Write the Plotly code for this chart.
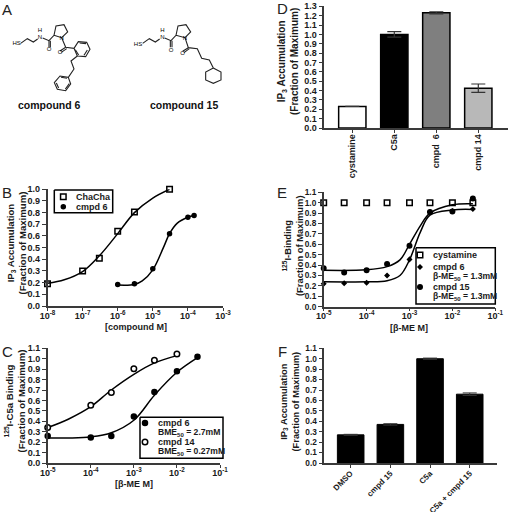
import plotly.graph_objects as go

FONT = "Liberation Sans"
DARK = "#1a1a1a"
AXC = "#3a3a3a"

# Panel A: molecule skeletons, drawn on a sketch axis
mol6_x = [62, 82, 100, 113, None, 128, 147, 162, 168, 192, 203, 185, 162, None, 147, 147, None, 151, 151, None,
          185, 197, 222, 235, 260, 270, 257, 232, 222, None, 197, 180, None, 200, 184, None, 239, 258, None, 262, 252, None, 236, 226, None,
          232, 213, 222, 205, 180, 163, 172, 197, 212, 205, None, 183, 201, None, 169, 176, None, 196, 208]
mol6_y = [130, 116, 126, 117, None, 114, 122, 106, 78, 74, 96, 113, 106, None, 122, 142, None, 122, 142, None,
          113, 142, 145, 125, 127, 148, 170, 168, 145, None, 142, 153, None, 146, 157, None, 129, 131, None, 150, 166, None, 165, 149, None,
          168, 183, 207, 232, 228, 248, 268, 272, 252, 232, None, 232, 235, None, 249, 264, None, 267, 251]
mol15_x = [428, 448, 466, 479, None, 494, 513, 528, 534, 558, 572, 555, 528, None, 511, 511, None, 516, 516, None,
           555, 565, 592, 605, 628, 640, 663, 663, 640, 617, 617, 640, None, 565, 548, None, 568, 552]
mol15_y = [130, 116, 126, 117, None, 114, 122, 106, 78, 74, 96, 113, 106, None, 122, 142, None, 122, 142, None,
           113, 143, 146, 175, 180, 204, 216, 240, 250, 240, 216, 204, None, 143, 154, None, 146, 158]
mol_labels = ["HS", "H", "N", "O", "N", "O", "HS", "H", "N", "O", "N", "O"]
mol_label_x = [50, 120, 120, 147, 185, 180, 414, 487, 487, 513, 555, 548]
mol_label_y = [131, 91, 112, 148, 114, 157, 132, 91, 112, 150, 114, 160]

# Panel B
b_cha_x = [1e-8, 1e-7, 3e-7, 1e-6, 3e-6, 3e-5]
b_cha_y = [0.19, 0.30, 0.41, 0.64, 0.805, 1.0]
b_cha_cx = [1e-8, 3e-8, 1e-7, 3e-7, 1e-6, 3e-6, 1e-5, 3e-5]
b_cha_cy = [0.195, 0.225, 0.295, 0.43, 0.62, 0.80, 0.925, 1.0]
b_c6_x = [1e-6, 3e-6, 1e-5, 3e-5, 1e-4, 1.5e-4]
b_c6_y = [0.185, 0.19, 0.32, 0.62, 0.76, 0.775]
b_c6_cx = [1e-6, 3e-6, 5e-6, 1e-5, 2e-5, 3e-5, 5e-5, 1e-4, 1.5e-4]
b_c6_cy = [0.18, 0.185, 0.215, 0.31, 0.50, 0.62, 0.71, 0.76, 0.775]
b_ticks = [1e-8, 1e-7, 1e-6, 1e-5, 1e-4, 1e-3]
b_ticklabels = ["10<sup>-8</sup>", "10<sup>-7</sup>", "10<sup>-6</sup>", "10<sup>-5</sup>", "10<sup>-4</sup>", "10<sup>-3</sup>"]

# Panel C
c_c6_x = [1e-5, 1e-4, 3e-4, 1e-3, 3e-3, 1e-2, 3e-2]
c_c6_y = [0.26, 0.245, 0.26, 0.445, 0.68, 0.88, 1.02]
c_c6_cx = [1e-5, 3e-5, 1e-4, 3e-4, 1e-3, 3e-3, 1e-2, 3e-2]
c_c6_cy = [0.24, 0.24, 0.25, 0.29, 0.41, 0.65, 0.87, 1.01]
c_c14_x = [1e-5, 1e-4, 3e-4, 1e-3, 3e-3, 1e-2]
c_c14_y = [0.34, 0.555, 0.675, 0.905, 0.985, 1.045]
c_c14_cx = [1e-5, 3e-5, 1e-4, 3e-4, 1e-3, 3e-3, 1e-2]
c_c14_cy = [0.34, 0.42, 0.54, 0.70, 0.85, 0.96, 1.03]
bme_ticks = [1e-5, 1e-4, 1e-3, 1e-2, 1e-1]
bme_ticklabels = ["10<sup>-5</sup>", "10<sup>-4</sup>", "10<sup>-3</sup>", "10<sup>-2</sup>", "10<sup>-1</sup>"]

# Panel D
d_cats = ["cystamine", "C5a", "cmpd  6", "cmpd 14"]
d_vals = [0.23, 1.0, 1.23, 0.425]
d_errs = [0.0, 0.03, 0.01, 0.045]
d_colors = ["#ffffff", "#000000", "#7f7f7f", "#b8b8b8"]

# Panel E
e_x = [1e-5, 3e-5, 1e-4, 3e-4, 1e-3, 3e-3, 1e-2, 3e-2]
e_cys = [1.0, 1.0, 1.0, 1.0, 1.0, 1.0, 1.0, 1.0]
e_c6 = [0.22, 0.225, 0.23, 0.30, 0.455, 0.91, 0.92, 0.94]
e_c15 = [0.37, 0.33, 0.35, 0.41, 0.585, 0.91, 0.915, 1.04]
e_cx = [1e-5, 1e-4, 3e-4, 6e-4, 1e-3, 1.8e-3, 3e-3, 1e-2, 3e-2]
e_c6_c = [0.24, 0.24, 0.25, 0.30, 0.45, 0.72, 0.88, 0.93, 0.935]
e_c15_c = [0.35, 0.355, 0.385, 0.45, 0.60, 0.78, 0.90, 0.98, 0.99]

# Panel F
f_cats = ["DMSO", "cmpd 15", "C5a", "C5a + cmpd 15"]
f_vals = [0.27, 0.37, 1.0, 0.66]
f_errs = [0.005, 0.007, 0.006, 0.012]

fig = go.Figure()


def dom_x(a, b):
    return [a / 512, b / 512]


def dom_y(top, bottom):
    return [1 - bottom / 512, 1 - top / 512]


def bold(labels):
    return ["<b>%s</b>" % t for t in labels]


def axes(i, x0, x1, ytop, ybot, yticks, ymax, xkw, xsize=9, standoff=0, ysize=9):
    s = "" if i == 1 else str(i)
    fig.update_layout({
        "xaxis" + s: dict(domain=dom_x(x0, x1), anchor="y" + s, showgrid=False, zeroline=False, showline=True,
                          linecolor=AXC, linewidth=1.5, ticks="outside", ticklen=3, tickwidth=1.2, tickcolor=AXC,
                          ticklabelstandoff=standoff,
                          tickfont=dict(family=FONT, size=xsize, color=DARK), **xkw),
        "yaxis" + s: dict(domain=dom_y(ytop, ybot), anchor="x" + s, range=[0, ymax], showgrid=False, zeroline=False,
                          showline=True, linecolor=AXC, linewidth=1.5, ticks="outside", ticklen=4, tickwidth=1.2,
                          tickcolor=AXC, tickvals=yticks, ticktext=bold(["%.1f" % t for t in yticks]),
                          tickfont=dict(family=FONT, size=ysize, color=DARK)),
    })


def tenths(n):
    return [k / 10 for k in range(n + 1)]


axes(1, 47.5, 223, 189.3, 306, tenths(10), 1.0,
     dict(type="log", range=[-8, -3], tickvals=b_ticks, ticktext=bold(b_ticklabels)), standoff=-3)
axes(2, 47.7, 220, 348.3, 463, tenths(11), 1.1,
     dict(type="log", range=[-5, -1], tickvals=bme_ticks, ticktext=bold(bme_ticklabels)), standoff=-3)
axes(3, 324.3, 507.7, 6.3, 128, tenths(13), 1.3,
     dict(range=[-0.667, 3.70], tickvals=[0, 1, 2, 3], ticktext=bold(d_cats), tickangle=-90), standoff=-2)
axes(4, 323.7, 495.3, 192.3, 306.7, tenths(11), 1.1,
     dict(type="log", range=[-5, -1], tickvals=bme_ticks, ticktext=bold(bme_ticklabels)), standoff=-3, ysize=8.3)
axes(5, 324.3, 496.7, 348.3, 463, tenths(11), 1.1,
     dict(range=[-0.665, 3.68], tickvals=[0, 1, 2, 3], ticktext=bold(f_cats), tickangle=-45), xsize=8, standoff=-2, ysize=8.3)

fig.update_layout(
    xaxis6=dict(domain=[0, 256 / 512], anchor="y6", range=[0, 768], visible=False),
    yaxis6=dict(domain=[1 - 150 / 512, 1], anchor="x6", range=[450, 0], visible=False),
    xaxis7=dict(domain=[0, 1], anchor="y7", range=[0, 512], visible=False),
    yaxis7=dict(domain=[0, 1], anchor="x7", range=[512, 0], visible=False),
)
for mx, my in [(mol6_x, mol6_y), (mol15_x, mol15_y)]:
    fig.add_trace(go.Scatter(x=mx, y=my, xaxis="x6", yaxis="y6", mode="lines", showlegend=False,
                             line=dict(color="#222222", width=1.1)))
fig.add_trace(go.Scatter(x=mol_label_x, y=mol_label_y, text=mol_labels, xaxis="x6", yaxis="y6", mode="text",
                         showlegend=False, textfont=dict(family=FONT, size=6, color="#000000")))


def curve(x, y, xa, ya):
    fig.add_trace(go.Scatter(x=x, y=y, xaxis=xa, yaxis=ya, mode="lines", showlegend=False, cliponaxis=False,
                             line=dict(color="#000000", width=1.5, shape="spline", smoothing=1.0)))


def pts(x, y, xa, ya, sym, fill, size):
    fig.add_trace(go.Scatter(x=x, y=y, xaxis=xa, yaxis=ya, mode="markers", showlegend=False, cliponaxis=False,
                             marker=dict(symbol=sym, color=fill, size=size, line=dict(color="#000000", width=1.5))))


curve(b_cha_cx, b_cha_cy, "x", "y")
curve(b_c6_cx, b_c6_cy, "x", "y")
pts(b_cha_x, b_cha_y, "x", "y", "square", "rgba(255,255,255,0)", 5.5)
pts(b_c6_x, b_c6_y, "x", "y", "circle", "#000000", 4)

curve(c_c6_cx, c_c6_cy, "x2", "y2")
curve(c_c14_cx, c_c14_cy, "x2", "y2")
pts(c_c6_x, c_c6_y, "x2", "y2", "circle", "#000000", 5)
pts(c_c14_x, c_c14_y, "x2", "y2", "circle", "#ffffff", 5.5)

fig.add_trace(go.Bar(x=[0, 1, 2, 3], y=d_vals, xaxis="x3", yaxis="y3", width=0.65, showlegend=False,
                     marker=dict(color=d_colors, line=dict(color="#000000", width=1.5)),
                     error_y=dict(type="data", array=d_errs, color="#333333", thickness=1.2, width=7)))

curve(e_cx, e_c6_c, "x4", "y4")
curve(e_cx, e_c15_c, "x4", "y4")
pts(e_x, e_cys, "x4", "y4", "square", "rgba(255,255,255,0)", 5.5)
pts(e_x, e_c6, "x4", "y4", "diamond", "#000000", 3)
pts(e_x, e_c15, "x4", "y4", "circle", "#000000", 4.5)

fig.add_trace(go.Bar(x=[0, 1, 2, 3], y=f_vals, xaxis="x5", yaxis="y5", width=0.67, showlegend=False,
                     marker=dict(color="#000000", line=dict(color="#000000", width=1)),
                     error_y=dict(type="data", array=f_errs, color="#333333", thickness=1, width=7)))

anns = []


def text(x, y, t, size=10, rot=0, b=True, color=DARK, anchor="center"):
    anns.append(dict(xref="paper", yref="paper", x=x / 512, y=1 - y / 512, text=("<b>%s</b>" % t) if b else t,
                     showarrow=False, textangle=rot, align="center" if anchor == "center" else "left",
                     xanchor=anchor, yanchor="middle", font=dict(family=FONT, size=size, color=color)))


def legend_box(x0, x1, y0, y1, keys, lines, tx):
    fig.add_trace(go.Scatter(x=[x0, x1, x1, x0, x0], y=[y0, y0, y1, y1, y0], xaxis="x7", yaxis="y7", mode="lines",
                             fill="toself", fillcolor="#ffffff", showlegend=False,
                             line=dict(color="#000000", width=1.5)))
    for kx, ky, sym, fill, sz in keys:
        fig.add_trace(go.Scatter(x=[kx], y=[ky], xaxis="x7", yaxis="y7", mode="markers", showlegend=False,
                                 marker=dict(symbol=sym, color=fill, size=sz, line=dict(color="#000000", width=1.5))))
    for ly, t, sz in lines:
        text(tx, ly, t, size=sz, anchor="left")


legend_box(54.3, 112.7, 190, 212.7,
           [(63.3, 196.7, "square", "#ffffff", 5.5), (63.3, 206.7, "circle", "#000000", 4)],
           [(196.7, "ChaCha", 9), (206.7, "cmpd 6", 9)], 74)
legend_box(140, 223, 417.3, 458.3,
           [(145, 423, "circle", "#000000", 5), (145, 442, "circle", "#ffffff", 5.5)],
           [(423.3, "cmpd 6", 9), (432.3, "BME<sub>50</sub> = 2.7mM", 8.6), (442, "cmpd 14", 9),
            (451, "BME<sub>50</sub> = 0.27mM", 8.6)], 156)
legend_box(416, 495.3, 247.7, 304,
           [(420, 255, "square", "#ffffff", 5.5), (420, 267, "diamond", "#000000", 3), (420, 287, "circle", "#000000", 4.5)],
           [(255, "cystamine", 9), (267, "cmpd 6", 9), (276, "β-ME<sub>50</sub> = 1.3mM", 8.6), (287, "cmpd 15", 9),
            (296.7, "β-ME<sub>50</sub> = 1.3mM", 8.6)], 430.7)

for lab, lx, ly in [("A", 7, 9), ("B", 7, 192), ("C", 7, 351), ("D", 282, 8), ("E", 282, 192), ("F", 282, 351)]:
    text(lx, ly, lab, size=15, b=False, color="#222222")
text(49, 105, "compound 6", size=10.5, color="#111111")
text(184, 105, "compound 15", size=10.5, color="#111111")
text(15.5, 243, "IP<sub>3</sub> Accumulation<br>(Fraction of Maximum)", size=9.6, rot=-90)
text(136, 327, "[compound M]", size=9)
text(14.5, 401, "<sup>125</sup>I-C5a Binding<br>(Fraction of Maximum)", size=9.6, rot=-90)
text(134, 484, "[β-ME M]", size=9)
text(288, 62, "IP<sub>3</sub> Accumulation<br>(Fraction of Maximum)", size=10, rot=-90)
text(293, 246, "<sup>125</sup>I-Binding<br>(Fraction of Maximum)", size=9.4, rot=-90)
text(409, 328, "[β-ME M]", size=9)
text(289.5, 402, "IP<sub>3</sub> Accumulation<br>(Fraction of Maximum)", size=9.3, rot=-90)

fig.update_layout(
    width=512, height=512, margin=dict(l=0, r=0, t=0, b=0, autoexpand=False), paper_bgcolor="#ffffff",
    plot_bgcolor="rgba(0,0,0,0)", bargap=0.3, annotations=anns, font=dict(family=FONT), showlegend=False,
)
fig.write_html("out.html", post_script="document.body.style.margin='0';", config={"displayModeBar": False})
